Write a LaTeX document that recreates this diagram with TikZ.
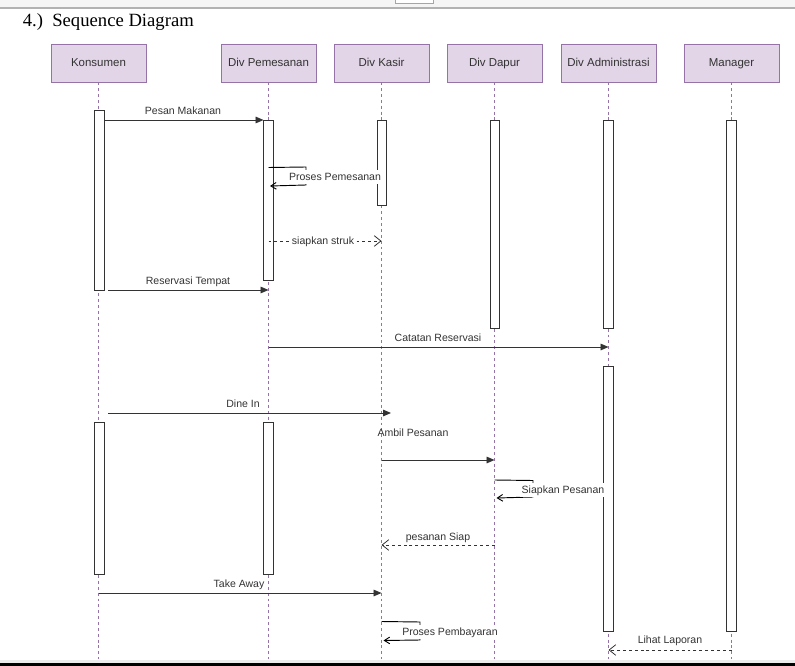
\documentclass[tikz,border=0pt]{standalone}
\usepackage{fontspec}
\setmainfont{Liberation Serif}
\newfontfamily\diafont{Liberation Sans}
\usetikzlibrary{arrows.meta}
\definecolor{hdrfill}{HTML}{E1D5E7}
\definecolor{hdrdraw}{HTML}{9673A6}
\definecolor{txtc}{HTML}{333333}
\tikzset{
  hdr/.style={draw=hdrdraw, fill=hdrfill, minimum width=71.25pt, minimum height=28.5pt, inner sep=0pt, text height=1.55ex, text depth=0.35ex, font=\diafont\fontsize{8.6}{10}\selectfont, text=txtc},
  life/.style={draw=hdrdraw, dashed, dash pattern=on 2.2pt off 2.2pt, line width=0.6pt},
  actbox/.style={draw=black!80, fill=white, line width=0.6pt},
  msg/.style={draw=black!80, line width=0.7pt, -{Triangle[length=6pt,width=5pt]}},
  rmsg/.style={draw=black!80, line width=0.6pt, dashed, dash pattern=on 2.2pt off 2.2pt, -{Straight Barb[length=5pt,width=8pt]}},
  selfmsg/.style={draw=black, line width=0.7pt, -{Straight Barb[length=4pt,width=5pt]}},
  lbl/.style={font=\diafont\fontsize{7.9}{9}\selectfont, text=txtc, inner sep=1pt, text height=1.55ex, text depth=0.35ex},
}
\begin{document}
\begin{tikzpicture}[x=0.75pt,y=-0.75pt]
\useasboundingbox (0,0) rectangle (795,666);
% window chrome
\fill[black!4] (0,0) rectangle (795,8);
\draw[black!30, line width=0.8pt] (0,8) -- (795,8);
\draw[black!35, fill=white, line width=0.6pt] (395,-1) rectangle (433,3);
\fill[black!8] (0,659.5) rectangle (795,662.5);
\fill[black] (0,662.5) rectangle (795,666);
% title
\node[anchor=west, inner sep=0pt, font=\fontsize{14}{16}\selectfont] (title) at (22.5,22.5) {4.)\ \ Sequence Diagram};
% headers
\node[hdr] (k) at (98.5,63) {Konsumen};
\node[hdr] (p) at (268.5,63) {Div Pemesanan};
\node[hdr] (ks) at (381.5,63) {Div Kasir};
\node[hdr] (d) at (494.5,63) {Div Dapur};
\node[hdr] (a) at (608.5,63) {Div Administrasi};
\node[hdr] (m) at (731.5,63) {Manager};
% lifeline ends
\coordinate (kE) at (98.5,659);
\coordinate (pE) at (268.5,659);
\coordinate (ksE) at (381.5,659);
\coordinate (dE) at (494.5,659);
\coordinate (aE) at (608.5,659);
\coordinate (mE) at (731.5,659);
\draw[life] (k.south) -- (kE);
\draw[life] (p.south) -- (pE);
\draw[life] (ks.south) -- (ksE);
\draw[life] (d.south) -- (dE);
\draw[life] (a.south) -- (aE);
\draw[life] (m.south) -- (mE);
% activation boxes
\draw[actbox] (94,110) rectangle (104,290);
\draw[actbox] (94,422) rectangle (104,574);
\draw[actbox] (263.5,120) rectangle (273.5,280);
\draw[actbox] (263.5,422) rectangle (273.5,574);
\draw[actbox] (377,120) rectangle (386,205);
\draw[actbox] (490,120) rectangle (499,328);
\draw[actbox] (603.5,120) rectangle (613.5,328);
\draw[actbox] (603.5,366) rectangle (613.5,631);
\draw[actbox] (726.5,120) rectangle (736.5,631);
% message coordinates
\coordinate (m1a) at (104,120); \coordinate (m1b) at (263.5,120);
\coordinate (m3a) at (268.5,241); \coordinate (m3b) at (381.5,241);
\coordinate (m4a) at (108,290); \coordinate (m4b) at (268.5,290);
\coordinate (m5a) at (268.5,347); \coordinate (m5b) at (608.5,347);
\coordinate (m6a) at (108,413); \coordinate (m6b) at (391,413);
\coordinate (m7a) at (381.5,460); \coordinate (m7b) at (494.5,460);
\coordinate (m9a) at (494.5,545); \coordinate (m9b) at (381.5,545);
\coordinate (m10a) at (98.5,593); \coordinate (m10b) at (381.5,593);
\coordinate (m12a) at (731.5,650); \coordinate (m12b) at (608.5,650);
% messages
\draw[msg] (m1a) -- (m1b);
\node[lbl] (l1) at (183,111) {Pesan Makanan};
\draw[selfmsg] (268.5,167.5) -- (306,167) -- (306,185) -- (270,186);
\node[lbl, fill=white] (l2) at (335,177) {Proses Pemesanan};
\draw[rmsg] (m3a) -- (m3b);
\node[lbl, fill=white] (l3) at (323,241) {siapkan struk};
\draw[msg] (m4a) -- (m4b);
\node[lbl] (l4) at (188,281) {Reservasi Tempat};
\draw[msg] (m5a) -- (m5b);
\node[lbl] (l5) at (438,338) {Catatan Reservasi};
\draw[msg] (m6a) -- (m6b);
\node[lbl] (l6) at (243,404) {Dine In};
\node[lbl] (l7) at (413,433) {Ambil Pesanan};
\draw[msg] (m7a) -- (m7b);
\draw[selfmsg] (494.5,480) -- (533,480.5) -- (533,497) -- (496.5,498);
\node[lbl, fill=white] (l8) at (563,490) {Siapkan Pesanan};
\draw[rmsg] (m9a) -- (m9b);
\node[lbl] (l9) at (438,537) {pesanan Siap};
\draw[msg] (m10a) -- (m10b);
\node[lbl] (l10) at (239,584) {Take Away};
\draw[selfmsg] (381.5,621.5) -- (420,622) -- (420,640) -- (383.5,640.5);
\node[lbl, fill=white] (l11) at (450,632) {Proses Pembayaran};
\draw[rmsg] (m12a) -- (m12b);
\node[lbl] (l12) at (670,640) {Lihat Laporan};
\end{tikzpicture}
\end{document}
